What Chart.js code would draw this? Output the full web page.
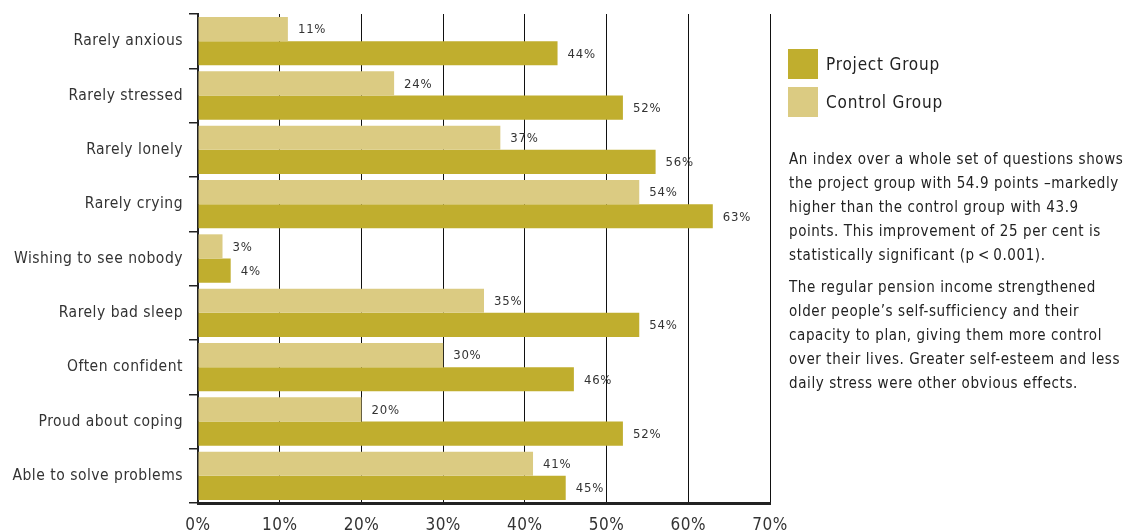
<!DOCTYPE html>
<html>
<head>
<meta charset="utf-8">
<script src="https://cdn.jsdelivr.net/npm/chart.js@4.4.0/dist/chart.umd.min.js"></script>
<style>
  body { margin: 0; background: #fff; width: 1140px; height: 532px; overflow: hidden; position: relative;
         font-family: "Liberation Sans Narrow", "DejaVu Sans Condensed", "Liberation Sans", sans-serif; color: #222; }
  #wrap { position: absolute; left: 0; top: 0; width: 790px; height: 532px; }
  #side { position: absolute; left: 788px; top: 49px; width: 352px; }
  .leg { display: flex; align-items: center; height: 30px; margin-bottom: 8px; font-size: 17px; letter-spacing: 0.8px; }
  .sw { width: 30px; height: 30px; margin-right: 8px; }
  .txt { font-size: 15px; line-height: 24px; letter-spacing: 0.6px; margin: 0 0 8px 1px; color: #222; white-space: nowrap; }
</style>
</head>
<body>
<div id="wrap"><canvas id="myChart"></canvas></div>
<div id="side">
  <div class="leg"><div class="sw" style="background:rgb(192,174,46)"></div>Project Group</div>
  <div class="leg"><div class="sw" style="background:rgb(219,203,130)"></div>Control Group</div>
  <p class="txt" style="margin-top:30px">An index over a whole set of questions shows<br>the project group with 54.9 points –markedly<br>higher than the control group with 43.9<br>points. This improvement of 25 per cent is<br>statistically significant (p&thinsp;&lt;&thinsp;0.001).</p>
  <p class="txt">The regular pension income strengthened<br>older people’s self-sufficiency and their<br>capacity to plan, giving them more control<br>over their lives. Greater self-esteem and less<br>daily stress were other obvious effects.</p>
</div>
<script>
const canvas = document.getElementById('myChart')
const font = '"Liberation Sans Narrow", "DejaVu Sans Condensed", "Liberation Sans", sans-serif'

// values
const categories = ['Rarely anxious', 'Rarely stressed', 'Rarely lonely', 'Rarely crying', 'Wishing to see nobody',
  'Rarely bad sleep', 'Often confident', 'Proud about coping', 'Able to solve problems']
const controlGroup = [11, 24, 37, 54, 3, 35, 30, 20, 41]
const projectGroup = [44, 52, 56, 63, 4, 54, 46, 52, 45]
const xTicks = [0, 10, 20, 30, 40, 50, 60, 70]

// labels after each bar
const barLabels = {
  id: 'barLabels',
  afterDatasetsDraw(chart) {
    const ctx = chart.ctx
    ctx.save()
    ctx.font = '13px ' + font
    ctx.fillStyle = '#333'
    ctx.textBaseline = 'middle'
    ctx.letterSpacing = '0.8px'
    chart.data.datasets.forEach((ds, i) => {
      chart.getDatasetMeta(i).data.forEach((bar, j) => {
        ctx.fillText(ds.data[j] + '%', bar.x + 10, bar.y + 1)
      })
    })
    ctx.restore()
  }
}

const spacing = {
  id: 'spacing',
  beforeDraw(chart) { chart.ctx.letterSpacing = '0.5px' }
}

const config = {
  type: 'bar',
  data: {
    labels: categories,
    datasets: [
      { label: 'Control Group', data: controlGroup, backgroundColor: 'rgb(219, 203, 130)' },
      { label: 'Project Group', data: projectGroup, backgroundColor: 'rgb(192, 174, 46)' }
    ]
  },
  options: {
    indexAxis: 'y',
    responsive: true,
    maintainAspectRatio: false,
    animation: false,
    categoryPercentage: 0.89,
    barPercentage: 1,
    layout: { padding: { top: 14, right: 20, left: 0, bottom: 0 } },
    plugins: { legend: { display: false }, tooltip: { enabled: false } },
    scales: {
      x: {
        min: 0, max: 70,
        afterBuildTicks: s => { s.ticks = xTicks.map(v => ({ value: v })) },
        afterFit: s => { s.height = 29; s.paddingLeft = 0; s.paddingRight = 0 },
        grid: { color: '#111', lineWidth: 1, drawTicks: false },
        border: { color: '#222', width: 3 },
        ticks: { color: '#333', padding: 12, font: { family: font, size: 17 }, callback: v => v + '%' }
      },
      y: {
        afterFit: s => { s.width = 198; s.paddingTop = 0; s.paddingBottom = 0 },
        grid: { offset: true, drawOnChartArea: false, color: '#222', tickLength: 9, lineWidth: 1.5 },
        border: { color: '#222', width: 2 },
        ticks: { color: '#333', padding: 6, font: { family: font, size: 15.5 } }
      }
    }
  },
  plugins: [spacing, barLabels]
}

const myChart = new Chart(canvas, config)
</script>
</body>
</html>
